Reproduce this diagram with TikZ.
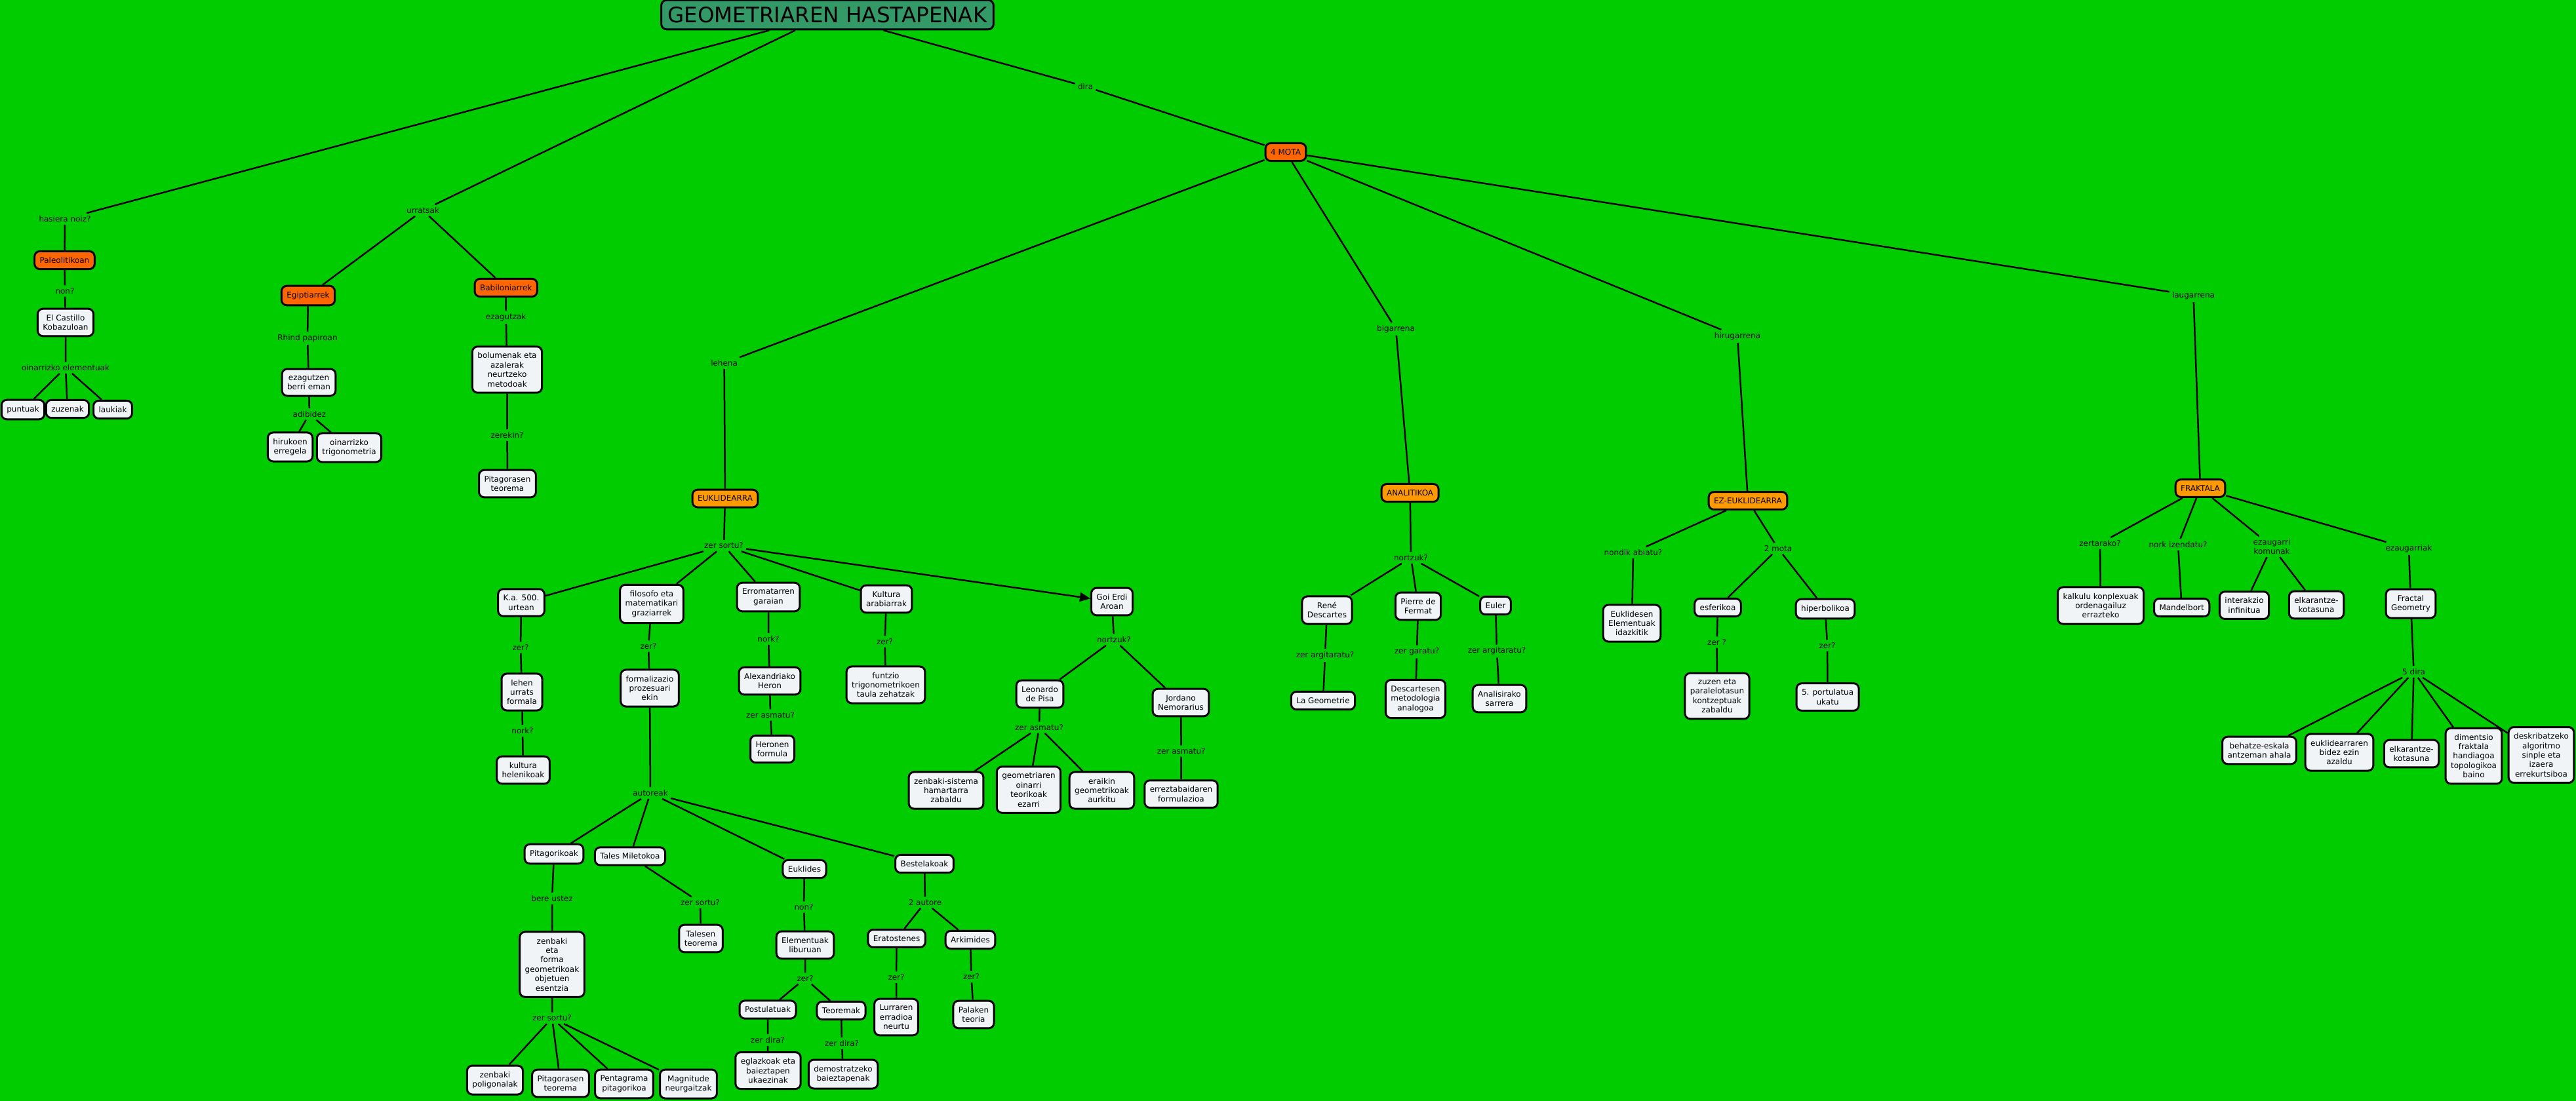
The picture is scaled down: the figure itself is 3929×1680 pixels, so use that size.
\documentclass[tikz,border=0pt]{standalone}
\usepackage{fontspec}
\setmainfont{DejaVu Sans}
\usepackage{tikz}
\usetikzlibrary{arrows.meta}
\definecolor{bggreen}{RGB}{0,204,0}
\definecolor{titlegreen}{RGB}{51,153,102}
\definecolor{eraorange}{RGB}{255,102,0}
\definecolor{typeorange}{RGB}{255,153,0}
\definecolor{boxwhite}{RGB}{240,244,247}

\begin{document}
\begin{tikzpicture}[
    x=1pt, y=-1pt,
    box/.style={rectangle, draw=black, fill=boxwhite, line width=3pt, rounded corners=8pt, align=center, inner xsep=8pt, inner ysep=9pt, font=\fontsize{12}{14.4}\selectfont},
    erabox/.style={box, fill=eraorange},
    typebox/.style={box, fill=typeorange},
    titlebox/.style={box, fill=titlegreen, inner xsep=10pt, inner ysep=10pt, font=\fontsize{32.5}{39}\selectfont},
    lbl/.style={align=center, inner sep=4pt, font=\fontsize{12}{14.4}\selectfont},
    conn/.style={line width=2.5pt, draw=black},
    arrow/.style={conn, -{Triangle[length=16pt, width=14pt]}}
]

\fill[bggreen] (0,0) rectangle (3929,1680);
\useasboundingbox (0,0) rectangle (3929,1680);

\node[titlebox] (title) at (1262,22.5) {GEOMETRIAREN HASTAPENAK};

\node[lbl] (hasiera) at (99,334) {hasiera noiz?};
\node[erabox] (paleo) at (98.5,397) {Paleolitikoan};
\node[lbl] (non) at (99,444) {non?};
\node[box] (castillo) at (100,492) {El Castillo\\Kobazuloan};
\node[lbl] (oinarri) at (100,561) {oinarrizko elementuak};
\node[box] (puntuak) at (35,625) {puntuak};
\node[box] (zuzenak) at (103,624) {zuzenak};
\node[box] (laukiak) at (172,625) {laukiak};

\node[lbl] (urratsak) at (645,321) {urratsak};
\node[erabox] (egipt) at (470,451) {Egiptiarrek};
\node[lbl] (rhind) at (469,516) {Rhind papiroan};
\node[box] (ezagutzen) at (471,583.5) {ezagutzen\\berri eman};
\node[lbl] (adibidez) at (472,632) {adibidez};
\node[box] (hirukoen) at (442.6,682) {hirukoen\\erregela};
\node[box] (trigo) at (532.5,683) {oinarrizko\\trigonometria};
\node[erabox] (babil) at (771.7,439) {Babiloniarrek};
\node[lbl] (ezagutzak) at (771.7,484) {ezagutzak};
\node[box] (bolumenak) at (773.5,564) {bolumenak eta\\azalerak\\neurtzeko\\metodoak};
\node[lbl] (zerekin) at (773.6,664) {zerekin?};
\node[box] (pitteor1) at (774,738) {Pitagorasen\\teorema};

\node[lbl] (dira) at (1655.6,132) {dira};
\node[erabox] (mota) at (1961,232) {4 MOTA};

\node[lbl] (lehena) at (1104.6,554) {lehena};
\node[typebox] (eukli) at (1106,760.6) {EUKLIDEARRA};
\node[lbl] (zersortu) at (1104,832.6) {zer sortu?};
\node[box] (kaurte) at (795,919.5) {K.a. 500.\\urtean};
\node[lbl] (zerka) at (794,988) {zer?};
\node[box] (lehenurrats) at (796,1056) {lehen\\urrats\\formala};
\node[lbl] (norkhel) at (797,1115) {nork?};
\node[box] (helenikoak) at (798,1175) {kultura\\helenikoak};
\node[box] (filosofo) at (994,921.5) {filosofo eta\\matematikari\\graziarrek};
\node[lbl] (zerfilo) at (989,986) {zer?};
\node[box] (formal) at (991,1050) {formalizazio\\prozesuari\\ekin};
\node[lbl] (autoreak) at (992,1210) {autoreak};
\node[box] (pitagorikoak) at (845,1303) {Pitagorikoak};
\node[lbl] (bereustez) at (842,1371) {bere ustez};
\node[box] (esentzia) at (842,1471.6) {zenbaki\\eta\\forma\\geometrikoak\\objetuen\\esentzia};
\node[lbl] (zersortupit) at (842,1553.5) {zer sortu?};
\node[box] (poligonalak) at (755,1648) {zenbaki\\poligonalak};
\node[box] (pitteor2) at (855,1653) {Pitagorasen\\teorema};
\node[box] (pentagrama) at (952,1654) {Pentagrama\\pitagorikoa};
\node[box] (magnitude) at (1050,1654) {Magnitude\\neurgaitzak};
\node[box] (tales) at (961,1306.5) {Tales Miletokoa};
\node[lbl] (zersortutal) at (1068,1377) {zer sortu?};
\node[box] (talesen) at (1069,1432) {Talesen\\teorema};
\node[box] (euklides) at (1227,1326) {Euklides};
\node[lbl] (noneuk) at (1226,1384) {non?};
\node[box] (elementuak) at (1228,1442) {Elementuak\\liburuan};
\node[lbl] (zerelem) at (1228,1493) {zer?};
\node[box] (postulatuak) at (1171,1540.5) {Postulatuak};
\node[box] (teoremak) at (1283,1542) {Teoremak};
\node[lbl] (zerdirapos) at (1171,1587) {zer dira?};
\node[box] (eglazkoak) at (1171.5,1633.6) {eglazkoak eta\\baieztapen\\ukaezinak};
\node[lbl] (zerdirateo) at (1284,1592) {zer dira?};
\node[box] (demostratzeko) at (1286,1639) {demostratzeko\\baieztapenak};
\node[box] (bestelakoak) at (1410,1318) {Bestelakoak};
\node[lbl] (biautore) at (1411,1377) {2 autore};
\node[box] (eratostenes) at (1367.6,1432) {Eratostenes};
\node[box] (arkimides) at (1480,1434) {Arkimides};
\node[lbl] (zererat) at (1367,1491) {zer?};
\node[box] (lurraren) at (1367,1552) {Lurraren\\erradioa\\neurtu};
\node[lbl] (zerark) at (1481.5,1490.6) {zer?};
\node[box] (palaken) at (1485,1548) {Palaken\\teoria};
\node[box] (erroma) at (1172,911) {Erromatarren\\garaian};
\node[lbl] (norkerr) at (1172,975) {nork?};
\node[box] (heron) at (1174,1039) {Alexandriako\\Heron};
\node[lbl] (zerasmher) at (1175,1091) {zer asmatu?};
\node[box] (heronen) at (1178,1143) {Heronen\\formula};
\node[box] (kultura) at (1352,914) {Kultura\\arabiarrak};
\node[lbl] (zerkul) at (1349.5,979) {zer?};
\node[box] (funtzio) at (1351,1045) {funtzio\\trigonometrikoen\\taula zehatzak};
\node[box] (goierdi) at (1696,918) {Goi Erdi\\Aroan};
\node[lbl] (nortzukgoi) at (1699,976) {nortzuk?};
\node[box] (leonardo) at (1586,1059) {Leonardo\\de Pisa};
\node[lbl] (zerasmleo) at (1585,1110) {zer asmatu?};
\node[box] (hamartarra) at (1443,1206) {zenbaki-sistema\\hamartarra\\zabaldu};
\node[box] (teorikoak) at (1569,1205) {geometriaren\\oinarri\\teorikoak\\ezarri};
\node[box] (eraikin) at (1680.5,1206) {eraikin\\geometrikoak\\aurkitu};
\node[box] (jordano) at (1801,1072) {Jordano\\Nemorarius};
\node[lbl] (zerasmjor) at (1801.7,1146) {zer asmatu?};
\node[box] (erreztabaida) at (1801.5,1211.6) {erreztabaidaren\\formulazioa};

\node[lbl] (bigarrena) at (2129,502) {bigarrena};
\node[typebox] (anali) at (2150.6,752) {ANALITIKOA};
\node[lbl] (nortzukan) at (2152,851) {nortzuk?};
\node[box] (descartes) at (2024,931) {René\\Descartes};
\node[box] (fermat) at (2163,925) {Pierre de\\Fermat};
\node[box] (euler) at (2281,924) {Euler};
\node[lbl] (zerargdes) at (2021,1000) {zer argitaratu?};
\node[box] (geometrie) at (2018,1069) {La Geometrie};
\node[lbl] (zergaratu) at (2161,994.6) {zer garatu?};
\node[box] (metodologia) at (2159,1066.5) {Descartesen\\metodologia\\analogoa};
\node[lbl] (zerargeul) at (2283,993.5) {zer argitaratu?};
\node[box] (analisirako) at (2287,1066) {Analisirako\\sarrera};

\node[lbl] (hirugarrena) at (2650,513) {hirugarrena};
\node[typebox] (ezeukli) at (2666,764) {EZ-EUKLIDEARRA};
\node[lbl] (nondik) at (2491,843) {nondik abiatu?};
\node[box] (idazkitik) at (2489,951) {Euklidesen\\Elementuak\\idazkitik};
\node[lbl] (bimota) at (2712,837) {2 mota};
\node[box] (esferikoa) at (2620,927) {esferikoa};
\node[box] (hiperbolikoa) at (2784,929) {hiperbolikoa};
\node[lbl] (zeresf) at (2618.6,980) {zer ?};
\node[box] (zuzeneta) at (2619,1062) {zuzen eta\\paralelotasun\\kontzeptuak\\zabaldu};
\node[lbl] (zerhip) at (2787,985) {zer?};
\node[box] (portulatua) at (2787.6,1063.5) {5. portulatua\\ukatu};

\node[lbl] (laugarrena) at (3345.5,451) {laugarrena};
\node[typebox] (frakt) at (3356,745) {FRAKTALA};
\node[lbl] (zertarako) at (3203,829) {zertarako?};
\node[box] (kalkulu) at (3204,924) {kalkulu konplexuak\\ordenagailuz\\errazteko};
\node[lbl] (izendatu) at (3322,831) {nork izendatu?};
\node[box] (mandelbort) at (3327.6,927) {Mandelbort};
\node[lbl] (komunak) at (3465,834) {ezaugarri\\komunak};
\node[box] (interakzio) at (3423,923.6) {interakzio\\infinitua};
\node[box] (elkar1) at (3533,923) {elkarantze-\\kotasuna};
\node[lbl] (ezaugarriak) at (3674,837) {ezaugarriak};
\node[box] (fractalgeo) at (3677,921) {Fractal\\Geometry};
\node[lbl] (bostdira) at (3681.5,1025) {5 dira};
\node[box] (behatze) at (3446,1145) {behatze-eskala\\antzeman ahala};
\node[box] (euklidearraren) at (3568,1148) {euklidearraren\\bidez ezin\\azaldu};
\node[box] (elkar2) at (3678,1150) {elkarantze-\\kotasuna};
\node[box] (dimentsio) at (3773,1153.5) {dimentsio\\fraktala\\handiagoa\\topologikoa\\baino};
\node[box] (deskribatzeko) at (3876,1152) {deskribatzeko\\algoritmo\\sinple eta\\izaera\\errekurtsiboa};

\draw[conn] (title) -- (hasiera) -- (paleo) -- (non) -- (castillo) -- (oinarri);
\draw[conn] (oinarri) -- (puntuak);
\draw[conn] (oinarri) -- (zuzenak);
\draw[conn] (oinarri) -- (laukiak);

\draw[conn] (title) -- (urratsak);
\draw[conn] (urratsak) -- (egipt) -- (rhind) -- (ezagutzen) -- (adibidez);
\draw[conn] (adibidez) -- (hirukoen);
\draw[conn] (adibidez) -- (trigo);
\draw[conn] (urratsak) -- (babil) -- (ezagutzak) -- (bolumenak) -- (zerekin) -- (pitteor1);

\draw[conn] (title) -- (dira) -- (mota);
\draw[conn] (mota) -- (lehena) -- (eukli) -- (zersortu);
\draw[conn] (mota) -- (bigarrena) -- (anali) -- (nortzukan);
\draw[conn] (mota) -- (hirugarrena) -- (ezeukli);
\draw[conn] (mota) -- (laugarrena) -- (frakt);

\draw[conn] (zersortu) -- (kaurte) -- (zerka) -- (lehenurrats) -- (norkhel) -- (helenikoak);
\draw[conn] (zersortu) -- (filosofo) -- (zerfilo) -- (formal) -- (autoreak);
\draw[conn] (zersortu) -- (erroma) -- (norkerr) -- (heron) -- (zerasmher) -- (heronen);
\draw[conn] (zersortu) -- (kultura) -- (zerkul) -- (funtzio);
\draw[arrow] (zersortu) -- (goierdi);

\draw[conn] (autoreak) -- (pitagorikoak) -- (bereustez) -- (esentzia) -- (zersortupit);
\draw[conn] (zersortupit) -- (poligonalak);
\draw[conn] (zersortupit) -- (pitteor2);
\draw[conn] (zersortupit) -- (pentagrama);
\draw[conn] (zersortupit) -- (magnitude);
\draw[conn] (autoreak) -- (tales) -- (zersortutal) -- (talesen);
\draw[conn] (autoreak) -- (euklides) -- (noneuk) -- (elementuak) -- (zerelem);
\draw[conn] (zerelem) -- (postulatuak) -- (zerdirapos) -- (eglazkoak);
\draw[conn] (zerelem) -- (teoremak) -- (zerdirateo) -- (demostratzeko);
\draw[conn] (autoreak) -- (bestelakoak) -- (biautore);
\draw[conn] (biautore) -- (eratostenes) -- (zererat) -- (lurraren);
\draw[conn] (biautore) -- (arkimides) -- (zerark) -- (palaken);

\draw[conn] (goierdi) -- (nortzukgoi);
\draw[conn] (nortzukgoi) -- (leonardo) -- (zerasmleo);
\draw[conn] (zerasmleo) -- (hamartarra);
\draw[conn] (zerasmleo) -- (teorikoak);
\draw[conn] (zerasmleo) -- (eraikin);
\draw[conn] (nortzukgoi) -- (jordano) -- (zerasmjor) -- (erreztabaida);

\draw[conn] (nortzukan) -- (descartes) -- (zerargdes) -- (geometrie);
\draw[conn] (nortzukan) -- (fermat) -- (zergaratu) -- (metodologia);
\draw[conn] (nortzukan) -- (euler) -- (zerargeul) -- (analisirako);

\draw[conn] (ezeukli) -- (nondik) -- (idazkitik);
\draw[conn] (ezeukli) -- (bimota);
\draw[conn] (bimota) -- (esferikoa) -- (zeresf) -- (zuzeneta);
\draw[conn] (bimota) -- (hiperbolikoa) -- (zerhip) -- (portulatua);

\draw[conn] (frakt) -- (zertarako) -- (kalkulu);
\draw[conn] (frakt) -- (izendatu) -- (mandelbort);
\draw[conn] (frakt) -- (komunak);
\draw[conn] (komunak) -- (interakzio);
\draw[conn] (komunak) -- (elkar1);
\draw[conn] (frakt) -- (ezaugarriak) -- (fractalgeo) -- (bostdira);
\draw[conn] (bostdira) -- (behatze);
\draw[conn] (bostdira) -- (euklidearraren);
\draw[conn] (bostdira) -- (elkar2);
\draw[conn] (bostdira) -- (dimentsio);
\draw[conn] (bostdira) -- (deskribatzeko);
\end{tikzpicture}
\end{document}
